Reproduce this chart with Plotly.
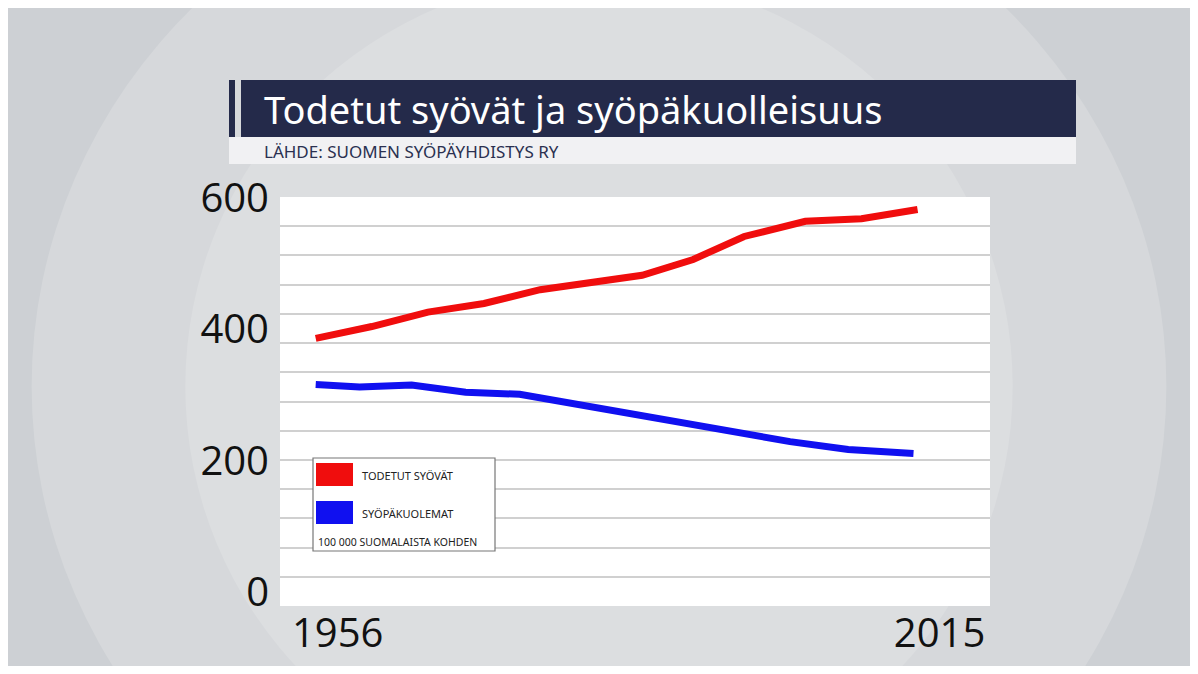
import plotly.graph_objects as go

W, H = 1182, 658
OFF = 8
red_years = [1956, 1961.5, 1967, 1972.5, 1978, 1983.5, 1988, 1993, 1998, 2004, 2009.5, 2015]
red_vals = [386, 404, 426, 439, 460, 471, 482, 506, 541, 564, 568, 582]
blue_years = [1956, 1960.3, 1965.4, 1970.7, 1976, 1981.5, 1987.8, 1993.7, 1998, 2002.5, 2008.2, 2014.6]
blue_vals = [316, 312, 315, 304, 301, 286, 270, 255, 243, 229, 217, 211]
y_ticks = [0, 200, 400, 600]
x_ticks = [1956, 2015]
title = "Todetut syövät ja syöpäkuolleisuus"
subtitle = "LÄHDE: SUOMEN SYÖPÄYHDISTYS RY"
names = ["TODETUT SYÖVÄT", "SYÖPÄKUOLEMAT"]
note = "100 000 SUOMALAISTA KOHDEN"

def px(x): return (x - OFF) / W
def py(y): return 1 - (y - OFF) / H

fig = go.Figure()
fig.add_trace(go.Scatter(x=[1956], y=[1], yaxis="y2", mode="markers",
                         marker=dict(opacity=0), showlegend=False, hoverinfo="skip"))
fig.add_trace(go.Scatter(x=red_years, y=red_vals, mode="lines", name=names[0],
                         line=dict(color="#f00d0d", width=7), showlegend=False))
fig.add_trace(go.Scatter(x=blue_years, y=blue_vals, mode="lines", name=names[1],
                         line=dict(color="#1010f0", width=7), showlegend=False))

shapes = []
shapes.append(dict(type="rect", xref="paper", yref="paper", x0=-0.05, x1=1.05, y0=-0.05, y1=1.05,
                   fillcolor="#cdd0d4", line=dict(width=0), layer="below"))
shapes.append(dict(type="circle", xref="paper", yref="paper", x0=0.02, x1=0.98, y0=-0.4, y1=1.25,
                   fillcolor="#d6d8db", line=dict(width=0), layer="below"))
shapes.append(dict(type="circle", xref="paper", yref="paper", x0=0.15, x1=0.85, y0=-0.2, y1=1.05,
                   fillcolor="#dcdee0", line=dict(width=0), layer="below"))
# plot area white
shapes.append(dict(type="rect", xref="paper", yref="paper", x0=px(280), x1=px(990), y0=py(606), y1=py(197),
                   fillcolor="white", line=dict(width=0), layer="below"))
# title bar
shapes.append(dict(type="rect", xref="paper", yref="paper", x0=px(229), x1=px(1076), y0=py(164), y1=py(137),
                   fillcolor="#f1f1f3", line=dict(width=0)))
shapes.append(dict(type="rect", xref="paper", yref="paper", x0=px(229), x1=px(235), y0=py(137), y1=py(80),
                   fillcolor="#242a4a", line=dict(width=0)))
shapes.append(dict(type="rect", xref="paper", yref="paper", x0=px(241), x1=px(1076), y0=py(137), y1=py(80),
                   fillcolor="#242a4a", line=dict(width=0)))
# legend box
shapes.append(dict(type="rect", xref="paper", yref="paper", x0=px(313), x1=px(495), y0=py(551), y1=py(458),
                   fillcolor="white", line=dict(color="#777", width=1.2)))
shapes.append(dict(type="rect", xref="paper", yref="paper", x0=px(316), x1=px(353), y0=py(486), y1=py(463),
                   fillcolor="#f00d0d", line=dict(width=0)))
shapes.append(dict(type="rect", xref="paper", yref="paper", x0=px(316), x1=px(353), y0=py(524), y1=py(501),
                   fillcolor="#1010f0", line=dict(width=0)))

ann = [
    dict(text=title, x=px(262), y=py(109), xanchor="left", yanchor="middle",
         font=dict(family="Noto Sans", size=38, color="white")),
    dict(text=subtitle, x=px(262), y=py(151), xanchor="left", yanchor="middle",
         font=dict(family="Noto Sans", size=17, color="#2a3050")),
    dict(text=names[0], x=px(360), y=py(475), xanchor="left", yanchor="middle",
         font=dict(family="Noto Sans", size=11, color="#222")),
    dict(text=names[1], x=px(360), y=py(513), xanchor="left", yanchor="middle",
         font=dict(family="Noto Sans", size=11, color="#222")),
    dict(text=note, x=px(316), y=py(542), xanchor="left", yanchor="middle",
         font=dict(family="Noto Sans", size=10.5, color="#222")),
]
for a in ann:
    a.update(xref="paper", yref="paper", showarrow=False)

fig.update_layout(
    width=W, height=H, margin=dict(l=0, r=0, t=0, b=0),
    paper_bgcolor="#cdd0d4", plot_bgcolor="white",
    shapes=shapes, annotations=ann,
    xaxis=dict(domain=[px(280), px(990)], range=[1952.5, 2022.1], tickvals=x_ticks,
               showgrid=False, zeroline=False, ticks="", ticklabelshift=22,
               tickfont=dict(family="Open Sans", size=40, color="#111"), automargin=False),
    yaxis=dict(domain=[py(606), py(197)], range=[-21, 601], tickvals=y_ticks,
               showgrid=False, zeroline=False, ticks="", ticklabelstandoff=10,
               tickfont=dict(family="Open Sans", size=40, color="#111"), automargin=False),
    yaxis2=dict(overlaying="y", domain=[py(606), py(197)], range=[0, 14], tickvals=list(range(1, 14)),
                showgrid=True, gridcolor="#d0d0d0", gridwidth=1.5, showticklabels=False,
                zeroline=False, side="right"),
)
fig.write_html("out.html")
